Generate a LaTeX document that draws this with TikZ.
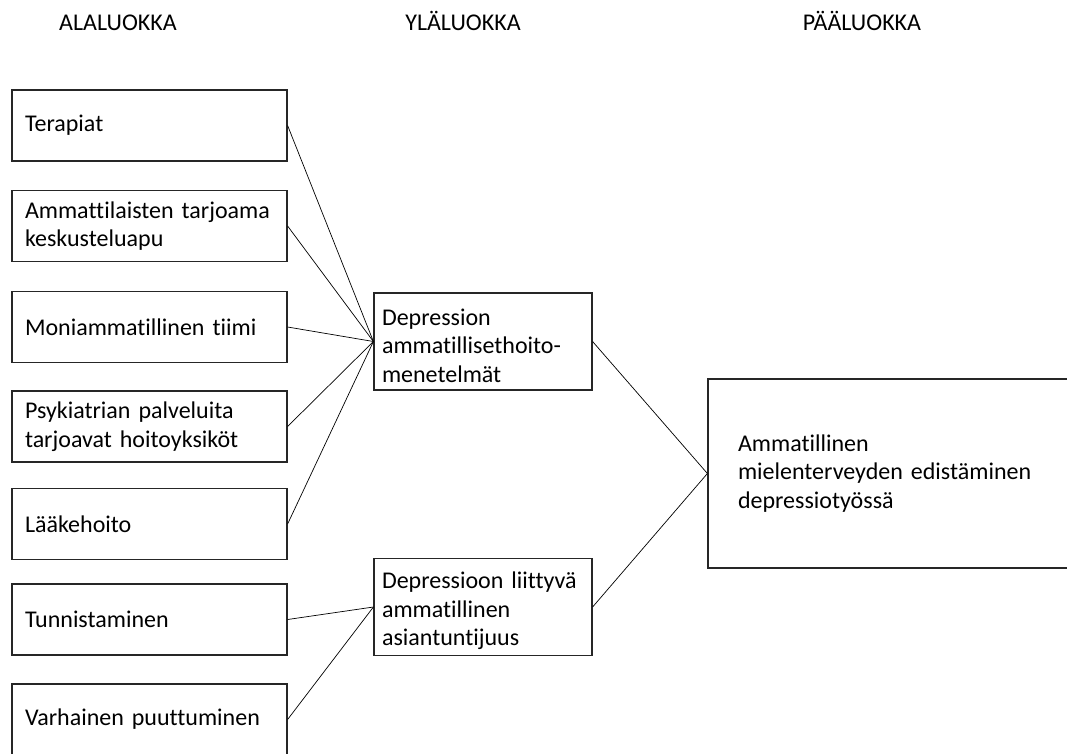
\documentclass[tikz,border=0pt]{standalone}
\usepackage{fontspec}
\setmainfont{Carlito}[Ligatures={NoCommon,NoContextual}]
\usetikzlibrary{positioning}

\begin{document}
\begin{tikzpicture}[
    x=1pt, y=-1pt,
    font=\fontsize{24}{28.5}\selectfont,
    subclass/.style={rectangle, draw=black!85, line width=1.2pt, minimum height=71pt, text width=249pt, inner xsep=13pt, align=left},
    upperclass/.style={rectangle, draw=black!85, line width=1.2pt, minimum height=97pt, text width=202pt, inner xsep=8pt, align=left,
        execute at begin node={\rule{0pt}{25pt}}},
    mainclass/.style={rectangle, draw=black!85, line width=1.2pt, minimum height=189pt, text width=320pt, inner xsep=30pt, align=left},
    heading/.style={anchor=base, font=\fontsize{24}{28.5}\selectfont},
    link/.style={draw=black, line width=0.7pt}
]
    \useasboundingbox (0,0) rectangle (1067,753);
    \clip (0,0) rectangle (1067,753);

    % Headings
    \node[heading] (hsub) at (118, 30) {ALALUOKKA};
    \node[heading] (hupper) at (463, 30) {YLÄLUOKKA};
    \node[heading] (hmain) at (862, 30) {PÄÄLUOKKA};

    % Subclasses
    \node[subclass] (s1) at (149.5, 125.5) {Terapiat};
    \node[subclass] (s2) at (149.5, 226) {Ammattilaisten tarjoama\\keskusteluapu};
    \node[subclass] (s3) at (149.5, 327) {Moniammatillinen tiimi};
    \node[subclass] (s4) at (149.5, 426.5) {Psykiatrian palveluita\\tarjoavat hoitoyksiköt};
    \node[subclass] (s5) at (149.5, 524) {Lääkehoito};
    \node[subclass] (s6) at (149.5, 619.5) {Tunnistaminen};
    \node[subclass] (s7) at (149.5, 719.5) {Varhainen puuttuminen};

    % Upper classes
    \node[upperclass] (u1) at (483, 341.5) {Depression\\ammatillisethoito-\\menetelmät};
    \node[upperclass] (u2) at (483, 607) {Depressioon liittyvä\\ammatillinen\\asiantuntijuus};

    % Main class
    \node[mainclass] (m1) at (898, 473.5) {Ammatillinen\\mielenterveyden edistäminen\\depressiotyössä};

    % Links
    \draw[link] (s1.east) -- (u1.west);
    \draw[link] (s2.east) -- (u1.west);
    \draw[link] (s3.east) -- (u1.west);
    \draw[link] (s4.east) -- (u1.west);
    \draw[link] (s5.east) -- (u1.west);
    \draw[link] (s6.east) -- (u2.west);
    \draw[link] (s7.east) -- (u2.west);
    \draw[link] (u1.east) -- (m1.west);
    \draw[link] (u2.east) -- (m1.west);
\end{tikzpicture}
\end{document}
